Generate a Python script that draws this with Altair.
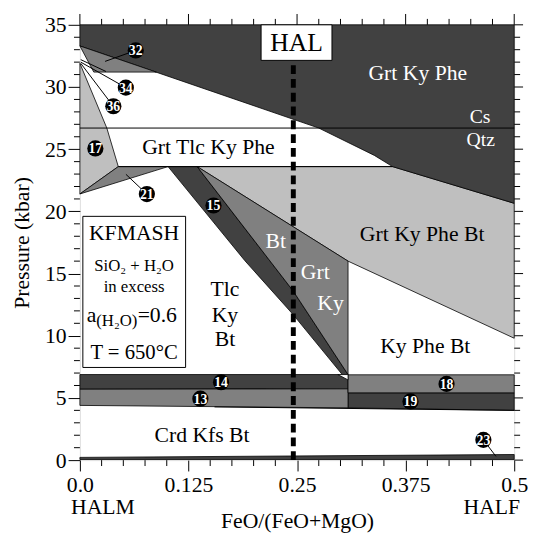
import altair as alt
import pandas as pd

FONT = "Liberation Serif"
DARK = "#414141"
MED = "#808080"
LIGHT = "#bfbfbf"
W, H = 441, 442

# ---------------- tick positions ----------------
x_major = [0.0, 0.125, 0.25, 0.375, 0.5]
x_minor = [0.025, 0.05, 0.075, 0.1, 0.15, 0.175, 0.2, 0.225,
           0.275, 0.3, 0.325, 0.35, 0.4, 0.425, 0.45, 0.475]
y_major = [0, 5, 10, 15, 20, 25, 30, 35]
y_minor = [1, 2, 3, 4, 6, 7, 8, 9, 11, 12, 13, 14, 16, 17, 18, 19,
           21, 22, 23, 24, 26, 27, 28, 29, 31, 32, 33, 34]

# ---------------- phase fields (x = FeO/(FeO+MgO), y = P kbar) ----------------
dark_top = [(0, 35), (0.5, 35), (0.5, 20.65), (0.36, 23.6), (0.339, 24.5), (0.275, 26.7), (0, 33.3)]
light_main = [(0.135, 23.6), (0.36, 23.6), (0.5, 20.65), (0.5, 9.8), (0.3087, 16.0)]
medium_main = [(0.135, 23.6), (0.3087, 16.0), (0.3087, 6.88), (0.2455, 13.6)]
dark_strip15 = [(0.1015, 23.6), (0.135, 23.6), (0.2455, 13.6), (0.3087, 6.88),
                (0.302, 6.88), (0.2455, 11.7), (0.19, 16.03)]
light_17 = [(0, 31.9), (0.031, 26.7), (0.0442, 23.6), (0, 21.4)]
medium_21 = [(0.0442, 23.6), (0.1015, 23.6), (0, 21.4)]
medium_32 = [(0, 33.3), (0.088, 31.2), (0.016, 31.2)]
dark_band14 = [(0, 5.7), (0.3087, 5.73), (0.3087, 6.88), (0, 6.88)]
medium_band13 = [(0, 4.4), (0.3087, 4.2), (0.3087, 5.73), (0, 5.7)]
medium_band18 = [(0.3087, 5.41), (0.5, 5.41), (0.5, 6.86), (0.3087, 6.86)]
dark_band19 = [(0.3087, 4.2), (0.5, 4.0), (0.5, 5.41), (0.3087, 5.41)]
dark_band23 = [(0, 0.05), (0.5, 0.05), (0.5, 0.45), (0, 0.22)]
white_notch = [(0.297, 6.88), (0.3087, 6.88), (0.3087, 6.45)]

polys = {
    LIGHT: {"light_main": light_main, "light_17": light_17},
    DARK: {"dark_top": dark_top, "dark_strip15": dark_strip15, "dark_band14": dark_band14,
           "dark_band19": dark_band19, "dark_band23": dark_band23},
    MED: {"medium_main": medium_main, "medium_21": medium_21, "medium_32": medium_32,
          "medium_band13": medium_band13, "medium_band18": medium_band18},
    "white": {"white_notch": white_notch},
}

# ---------------- boundary / leader lines ----------------
lines = {
    "cs_qtz": [(0, 26.7), (0.5, 26.7)],
    "l23_6": [(0.0442, 23.6), (0.36, 23.6)],
    "lead32": [(0.029, 32.06), (0.0643, 32.94)],
    "lead21": [(0.053, 22.98), (0.0771, 21.39)],
    "lead23": [(0.479, 0.3), (0.4645, 1.63)],
    "lead34": [(0.001, 32.0), (0.0529, 29.95)],
    "lead36": [(0.001, 31.9), (0.0385, 28.45)],
    "wedge": [(0.001, 32.2), (0.03, 31.25)],
    "bottom13": [(0.155, 4.28), (0.5, 4.0)],
}

# ---------------- labels ----------------
field_text = ["Grt Ky Phe", "Cs", "Qtz", "Grt Tlc Ky Phe", "Grt Ky Phe Bt", "Bt", "Grt", "Ky",
              "Tlc", "Ky", "Bt", "Ky Phe Bt", "Crd Kfs Bt"]
field_x = [0.389, 0.4607, 0.4615, 0.148, 0.394, 0.2256, 0.271, 0.2885,
           0.167, 0.167, 0.167, 0.3976, 0.1406]
field_y = [31.1, 27.55, 25.75, 25.14, 18.15, 17.6, 15.1, 12.6,
           13.75, 11.68, 9.7, 9.16, 2.03]
field_col = ["white", "white", "white", "black", "black", "white", "white", "white",
             "black", "black", "black", "black", "black"]
field_size = [22, 20, 20, 22, 22, 22, 22, 22, 22, 22, 22, 22, 22]

rxn_num = ["32", "34", "36", "17", "21", "15", "14", "13", "18", "19", "23"]
rxn_x = [0.0643, 0.0529, 0.0385, 0.0178, 0.0771, 0.1538, 0.1625, 0.1387, 0.4221, 0.3806, 0.4645]
rxn_y = [32.94, 29.95, 28.45, 25.06, 21.39, 20.47, 6.26, 4.94, 6.13, 4.72, 1.63]

# ---------------- build ----------------
xs = alt.Scale(domain=[0, 0.5], nice=False, zero=False)
ys = alt.Scale(domain=[0, 35], nice=False, zero=False)

x_axis = alt.Axis(values=x_major, format=".3~f", labelExpr="datum.value == 0 ? '0.0' : datum.label",
                  labelFont=FONT, labelFontSize=22, labelColor="black", labelPadding=4,
                  labelFlush=False, labelOverlap=False, tickSize=11, tickColor="black",
                  domain=False, grid=False, title="FeO/(FeO+MgO)", titleFont=FONT,
                  titleFontSize=22, titleFontWeight="normal", titleColor="black", titlePadding=15)
y_axis = alt.Axis(values=y_major, format="d", labelFont=FONT, labelFontSize=22, labelColor="black",
                  labelPadding=2, labelFlush=False, labelOverlap=False, tickSize=12,
                  tickColor="black", domain=False, grid=False, title="Pressure (kbar)",
                  titleFont=FONT, titleFontSize=22, titleFontWeight="normal",
                  titleColor="black", titlePadding=11)


def X(field):
    return alt.X(field, scale=xs, axis=x_axis)


def Y(field):
    return alt.Y(field, scale=ys, axis=y_axis)


layers = []

for color, group in polys.items():
    rows = []
    for name, pts in group.items():
        for i, (px, py) in enumerate(pts + [pts[0]]):
            rows.append({"poly": name, "idx": i, "x": px, "y": py})
    df = pd.DataFrame(rows)
    layers.append(
        alt.Chart(df).mark_line(fill=color, stroke="black", strokeWidth=0.8, fillOpacity=1)
        .encode(x=X("x:Q"), y=Y("y:Q"), detail="poly:N", order="idx:Q")
    )

line_rows = []
for name, pts in lines.items():
    for i, (px, py) in enumerate(pts):
        line_rows.append({"ln": name, "idx": i, "x": px, "y": py})
layers.append(
    alt.Chart(pd.DataFrame(line_rows)).mark_line(color="black", strokeWidth=1)
    .encode(x=X("x:Q"), y=Y("y:Q"), detail="ln:N", order="idx:Q")
)

# HAL dashed composition line
hal_df = pd.DataFrame({"x": [0.2457], "y": [0], "y2": [32.1]})
layers.append(
    alt.Chart(hal_df).mark_rule(color="black", strokeWidth=5, strokeDash=[9, 5])
    .encode(x=X("x:Q"), y=Y("y:Q"), y2="y2:Q")
)

# boxes
box_df = pd.DataFrame({"x": [0.0034, 0.2086], "x2": [0.1217, 0.2902],
                       "y": [7.45, 32.14], "y2": [19.6, 35.0]})
layers.append(
    alt.Chart(box_df).mark_rect(fill="white", stroke="black", strokeWidth=1)
    .encode(x=X("x:Q"), x2="x2:Q", y=Y("y:Q"), y2="y2:Q")
)

# field labels
fdf = pd.DataFrame({"x": field_x, "y": field_y, "t": field_text, "c": field_col, "s": field_size})
layers.append(
    alt.Chart(fdf).mark_text(font=FONT, baseline="middle", align="center")
    .encode(x=X("x:Q"), y=Y("y:Q"), text="t:N", color=alt.Color("c:N", scale=None),
            size=alt.Size("s:Q", scale=None))
)

# KFMASH box text and HAL
ann_text = ["KFMASH", "SiO\u2082 + H\u2082O", "in excess", "T = 650\u00b0C", "HAL"]
ann_x = [0.0624, 0.0624, 0.0624, 0.0624, 0.2494]
ann_y = [18.27, 15.64, 13.92, 8.64, 33.55]
ann_size = [22, 17, 17, 21, 26]
adf = pd.DataFrame({"x": ann_x, "y": ann_y, "t": ann_text, "s": ann_size})
layers.append(
    alt.Chart(adf).mark_text(font=FONT, baseline="middle", align="center", color="black")
    .encode(x=X("x:Q"), y=Y("y:Q"), text="t:N", size=alt.Size("s:Q", scale=None))
)

# a(H2O) = 0.6  (left aligned pieces)
aw_text = ["a", "(H\u2082O)", "=0.6"]
aw_x = [0.0079, 0.0188, 0.0665]
aw_y = [11.68, 11.2, 11.68]
aw_size = [22, 17, 22]
awdf = pd.DataFrame({"x": aw_x, "y": aw_y, "t": aw_text, "s": aw_size})
layers.append(
    alt.Chart(awdf).mark_text(font=FONT, baseline="middle", align="left", color="black")
    .encode(x=X("x:Q"), y=Y("y:Q"), text="t:N", size=alt.Size("s:Q", scale=None))
)

# end-member names below axis
end_text = ["HALM", "HALF"]
end_x = [-0.0102, 0.5068]
end_y = [-3.78, -3.78]
layers.append(
    alt.Chart(pd.DataFrame({"x": end_x[:1], "y": end_y[:1], "t": end_text[:1]}))
    .mark_text(font=FONT, fontSize=22, baseline="middle", align="left", color="black")
    .encode(x=X("x:Q"), y=Y("y:Q"), text="t:N")
)
layers.append(
    alt.Chart(pd.DataFrame({"x": end_x[1:], "y": end_y[1:], "t": end_text[1:]}))
    .mark_text(font=FONT, fontSize=22, baseline="middle", align="right", color="black")
    .encode(x=X("x:Q"), y=Y("y:Q"), text="t:N")
)

# reaction numbers
rdf = pd.DataFrame({"x": rxn_x, "y": rxn_y, "t": rxn_num})
layers.append(
    alt.Chart(rdf).mark_circle(size=270, color="black", opacity=1)
    .encode(x=X("x:Q"), y=Y("y:Q"))
)
layers.append(
    alt.Chart(rdf).mark_text(font=FONT, fontSize=14, fontWeight="bold", color="white",
                             baseline="middle", align="center", dy=1)
    .encode(x=X("x:Q"), y=Y("y:Q"), text="t:N")
)

# extra ticks (minor + top/right)
xmaj = pd.DataFrame({"x": x_major})
xmin = pd.DataFrame({"x": x_minor})
ymaj = pd.DataFrame({"y": y_major})
ymin = pd.DataFrame({"y": y_minor})
tick = dict(color="black", strokeWidth=1)
layers += [
    alt.Chart(xmin).mark_rule(**tick).encode(x=X("x:Q"), y=alt.value(H), y2=alt.value(H + 6)),
    alt.Chart(xmaj).mark_rule(**tick).encode(x=X("x:Q"), y=alt.value(0), y2=alt.value(-11)),
    alt.Chart(xmin).mark_rule(**tick).encode(x=X("x:Q"), y=alt.value(0), y2=alt.value(-6)),
    alt.Chart(ymin).mark_rule(**tick).encode(y=Y("y:Q"), x=alt.value(0), x2=alt.value(-6)),
    alt.Chart(ymaj).mark_rule(**tick).encode(y=Y("y:Q"), x=alt.value(W), x2=alt.value(W + 9)),
    alt.Chart(ymin).mark_rule(**tick).encode(y=Y("y:Q"), x=alt.value(W), x2=alt.value(W + 6)),
]

chart = (
    alt.layer(*layers)
    .properties(width=W, height=H, autosize=alt.AutoSizeParams(type="none"),
                padding={"left": 73, "top": 13, "right": 14, "bottom": 75})
    .configure_view(stroke="black", strokeWidth=1)
    .configure(background="white")
)

chart.save("out.html", embed_options={"renderer": "svg", "actions": False})
